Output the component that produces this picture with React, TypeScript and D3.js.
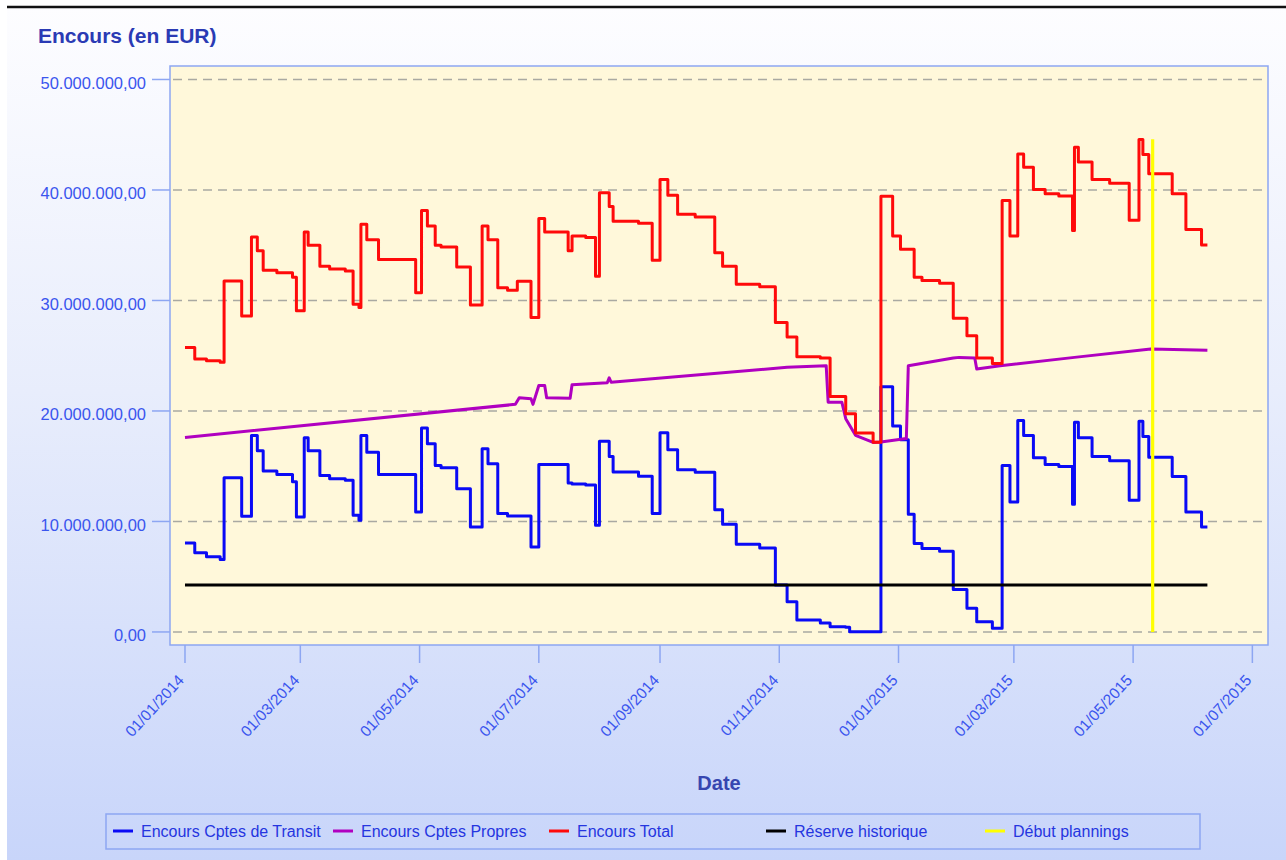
import React, { useRef, useEffect } from 'react';
import * as d3 from 'd3';

// Step series (values in millions of EUR), one entry per change date
const stepDates = [
  '2014-01-01', '2014-01-06', '2014-01-12', '2014-01-19', '2014-01-21', '2014-01-30',
  '2014-02-04', '2014-02-07', '2014-02-10', '2014-02-17', '2014-02-25', '2014-02-27',
  '2014-03-03', '2014-03-05', '2014-03-11', '2014-03-16', '2014-03-24', '2014-03-28',
  '2014-03-31', '2014-04-01', '2014-04-04', '2014-04-10', '2014-04-29', '2014-05-02',
  '2014-05-05', '2014-05-09', '2014-05-12', '2014-05-20', '2014-05-27', '2014-06-02',
  '2014-06-05', '2014-06-10', '2014-06-15', '2014-06-20', '2014-06-27', '2014-07-01',
  '2014-07-04', '2014-07-16', '2014-07-18', '2014-07-25', '2014-07-30', '2014-08-01',
  '2014-08-06', '2014-08-08', '2014-08-21', '2014-08-28', '2014-09-01', '2014-09-05',
  '2014-09-10', '2014-09-19', '2014-09-29', '2014-10-03', '2014-10-10', '2014-10-22',
  '2014-10-30', '2014-11-05', '2014-11-10', '2014-11-22', '2014-11-27', '2014-12-05',
  '2014-12-07', '2014-12-10', '2014-12-19', '2014-12-23', '2014-12-29', '2015-01-02',
  '2015-01-06', '2015-01-09', '2015-01-13', '2015-01-22', '2015-01-29', '2015-02-05',
  '2015-02-10', '2015-02-18', '2015-02-23', '2015-02-27', '2015-03-03', '2015-03-06',
  '2015-03-11', '2015-03-17', '2015-03-24', '2015-03-31', '2015-04-01', '2015-04-03',
  '2015-04-10', '2015-04-19', '2015-04-29', '2015-05-04', '2015-05-06', '2015-05-09',
  '2015-05-21', '2015-05-28', '2015-06-05', '2015-06-08',
];

const transit = [
  8.06, 7.16, 6.8, 6.55, 13.96, 10.47,
  17.78, 16.4, 14.56, 14.26, 13.6, 10.4,
  17.57, 16.4, 14.17, 13.87, 13.72, 10.56,
  10.1, 17.78, 16.27, 14.25, 10.86, 18.47,
  17.03, 15.07, 14.86, 12.97, 9.5, 16.58,
  15.22, 10.71, 10.5, 10.5, 7.7, 15.16,
  15.16, 13.47, 13.4, 13.3, 9.66, 17.27,
  15.88, 14.47, 14.1, 10.71, 18.02, 16.49,
  14.68, 14.45, 11.07, 9.75, 7.94, 7.6,
  4.24, 2.74, 1.08, 0.8, 0.48, 0.42,
  0.03, 0.03, 0.03, 22.2, 18.65, 17.4,
  10.65, 8.0, 7.55, 7.3, 3.85, 2.14,
  0.93, 0.33, 15.07, 11.76, 19.13, 17.78,
  15.77, 15.16, 14.98, 11.55, 18.98, 17.57,
  15.88, 15.5, 11.91, 19.07, 17.69, 15.82,
  14.08, 10.86, 9.5, 9.5,
];

const total = [
  25.75, 24.7, 24.55, 24.4, 31.77, 28.6,
  35.74, 34.5, 32.74, 32.52, 32.1, 29.06,
  36.2, 35.0, 33.1, 32.85, 32.67, 29.66,
  29.36, 36.9, 35.5, 33.7, 30.7, 38.15,
  36.73, 35.0, 34.84, 33.03, 29.6, 36.73,
  35.5, 31.16, 30.93, 31.75, 28.46, 37.42,
  36.2, 34.5, 35.83, 35.7, 32.2, 39.74,
  38.5, 37.18, 37.0, 33.63, 40.95, 39.53,
  37.8, 37.55, 34.33, 33.1, 31.47, 31.25,
  28.0, 26.7, 24.9, 24.8, 21.3, 19.74,
  19.74, 18.0, 17.18, 39.44, 35.83, 34.63,
  34.63, 32.1, 31.8, 31.55, 28.4, 26.8,
  24.8, 24.3, 39.05, 35.83, 43.26, 42.06,
  40.05, 39.65, 39.45, 36.34, 43.86, 42.54,
  40.95, 40.6, 37.25, 44.56, 43.2, 41.46,
  39.65, 36.43, 35.02, 35.02,
];

// Own accounts: drawn linear
const propresDates = [
  '2014-01-01', '2014-06-19', '2014-06-21', '2014-06-27', '2014-06-28', '2014-07-01',
  '2014-07-04', '2014-07-05', '2014-07-17', '2014-07-18', '2014-08-05', '2014-08-06',
  '2014-08-07', '2014-11-05', '2014-11-25', '2014-11-26', '2014-12-03', '2014-12-05',
  '2014-12-10', '2014-12-19', '2014-12-23', '2015-01-05', '2015-01-06', '2015-01-29',
  '2015-02-01', '2015-02-09', '2015-02-10', '2015-02-22', '2015-04-01', '2015-05-10',
  '2015-06-08',
];
const propres = [
  17.6, 20.6, 21.2, 21.1, 20.6, 22.3,
  22.3, 21.2, 21.15, 22.38, 22.55, 23.0,
  22.6, 23.95, 24.1, 20.8, 20.8, 19.3,
  17.8, 17.15, 17.2, 17.5, 24.1, 24.8,
  24.85, 24.8, 23.8, 24.1, 24.85, 25.6,
  25.5,
];

const reserveDates = ['2014-01-01', '2015-06-08'];
const reserve = [4.25, 4.25];

const planningDates = ['2015-05-11', '2015-05-11'];
const planning = [0, 44.6];

const yTicks = [0, 10, 20, 30, 40, 50];
const xTicks = [
  '2014-01-01', '2014-03-01', '2014-05-01', '2014-07-01', '2014-09-01',
  '2014-11-01', '2015-01-01', '2015-03-01', '2015-05-01', '2015-07-01',
];

const legendLabels = [
  'Encours Cptes de Transit', 'Encours Cptes Propres', 'Encours Total',
  'Réserve historique', 'Début plannings',
];
const legendX = [113, 333, 549, 766, 985];
const colors = ['#0a0af5', '#b000c0', '#ff0a0a', '#000000', '#ffff00'];

const FONT = '"Liberation Sans", Arial, sans-serif';
const FRAME = '#8da6f2';

const App = () => {
  const svgRef = useRef(null);

  useEffect(() => {
    const width = 1286;
    const height = 860;
    const svg = d3.select(svgRef.current);
    svg.selectAll('*').remove();
    svg.attr('width', width).attr('height', height);

    const parse = d3.utcParse('%Y-%m-%d');
    const plot = { left: 170, right: 1268, top: 66, bottom: 645 };

    const x = d3.scaleUtc()
      .domain([new Date(Date.UTC(2013, 11, 24, 8)), new Date(Date.UTC(2015, 6, 9))])
      .range([plot.left, plot.right]);
    const y = d3.scaleLinear()
      .domain([-1.18, 51.22])
      .range([plot.bottom, plot.top]);

    const locale = d3.formatLocale({ decimal: ',', thousands: '.', grouping: [3], currency: ['', '€'] });
    const fmtY = locale.format(',.2f');
    const fmtX = d3.utcFormat('%d/%m/%Y');

    // Background
    const defs = svg.append('defs');
    const grad = defs.append('linearGradient')
      .attr('id', 'bg').attr('x1', 0).attr('y1', 0).attr('x2', 0).attr('y2', 1);
    grad.append('stop').attr('offset', '0%').attr('stop-color', '#fdfdff');
    grad.append('stop').attr('offset', '45%').attr('stop-color', '#e8edfc');
    grad.append('stop').attr('offset', '100%').attr('stop-color', '#c8d5fa');

    svg.append('rect').attr('width', width).attr('height', height).attr('fill', '#ffffff');
    svg.append('rect').attr('x', 7).attr('y', 7).attr('width', width - 7).attr('height', height - 7)
      .attr('fill', 'url(#bg)');
    svg.append('line').attr('x1', 7).attr('x2', width).attr('y1', 7).attr('y2', 7)
      .attr('stroke', '#111').attr('stroke-width', 2.5);

    // Plot area
    svg.append('rect')
      .attr('x', plot.left).attr('y', plot.top)
      .attr('width', plot.right - plot.left).attr('height', plot.bottom - plot.top)
      .attr('fill', '#fff8da').attr('stroke', FRAME).attr('stroke-width', 1.5);

    // Grid
    svg.append('g').selectAll('line').data(yTicks).enter().append('line')
      .attr('x1', plot.left + 3).attr('x2', plot.right)
      .attr('y1', d => y(d)).attr('y2', d => y(d))
      .attr('stroke', '#a9a9a2').attr('stroke-width', 1.5).attr('stroke-dasharray', '9,6');

    // Y axis
    const yAxis = svg.append('g');
    yAxis.selectAll('line').data(yTicks).enter().append('line')
      .attr('x1', 152).attr('x2', plot.left)
      .attr('y1', d => y(d)).attr('y2', d => y(d))
      .attr('stroke', FRAME).attr('stroke-width', 1.5);
    yAxis.selectAll('text').data(yTicks).enter().append('text')
      .attr('x', 146).attr('y', d => y(d)).attr('dy', '0.55em')
      .attr('text-anchor', 'end')
      .attr('font-family', FONT).attr('font-size', 16.5).attr('fill', '#3a55ee')
      .text(d => fmtY(d * 1e6));

    // X axis
    const xAxis = svg.append('g');
    const xt = xTicks.map(parse);
    xAxis.selectAll('line').data(xt).enter().append('line')
      .attr('x1', d => x(d)).attr('x2', d => x(d))
      .attr('y1', plot.bottom).attr('y2', 663)
      .attr('stroke', FRAME).attr('stroke-width', 1.5);
    xAxis.selectAll('text').data(xt).enter().append('text')
      .attr('transform', d => `translate(${x(d)},681) rotate(-47)`)
      .attr('text-anchor', 'end')
      .attr('font-family', FONT).attr('font-size', 15.5).attr('fill', '#3a55ee')
      .text(d => fmtX(d));

    // Titles
    svg.append('text').attr('x', 38).attr('y', 43)
      .attr('font-family', FONT).attr('font-size', 21).attr('font-weight', 'bold')
      .attr('fill', '#2a3ab4').text('Encours (en EUR)');
    svg.append('text').attr('x', 719).attr('y', 790).attr('text-anchor', 'middle')
      .attr('font-family', FONT).attr('font-size', 20).attr('font-weight', 'bold')
      .attr('fill', '#3646b0').text('Date');

    // Series
    const toPoints = (dates, vals) => dates.map((d, i) => ({ date: parse(d), v: vals[i] }));
    const stepLine = d3.line().x(d => x(d.date)).y(d => y(d.v)).curve(d3.curveStepAfter);
    const linLine = d3.line().x(d => x(d.date)).y(d => y(d.v));

    const series = [
      { pts: toPoints(stepDates, transit), gen: stepLine, color: colors[0], w: 3 },
      { pts: toPoints(propresDates, propres), gen: linLine, color: colors[1], w: 3 },
      { pts: toPoints(stepDates, total), gen: stepLine, color: colors[2], w: 3 },
      { pts: toPoints(reserveDates, reserve), gen: linLine, color: colors[3], w: 3.2 },
      { pts: toPoints(planningDates, planning), gen: linLine, color: colors[4], w: 3.2 },
    ];
    series.forEach(s => {
      svg.append('path')
        .datum(s.pts)
        .attr('fill', 'none')
        .attr('stroke', s.color)
        .attr('stroke-width', s.w)
        .attr('stroke-linejoin', 'round')
        .attr('d', s.gen);
    });

    // Legend
    svg.append('rect').attr('x', 106).attr('y', 814).attr('width', 1094).attr('height', 35)
      .attr('fill', 'none').attr('stroke', FRAME).attr('stroke-width', 1.5);
    const leg = svg.append('g').selectAll('g').data(legendLabels).enter().append('g')
      .attr('transform', (d, i) => `translate(${legendX[i]},831)`);
    leg.append('line').attr('x1', 0).attr('x2', 20).attr('y1', 0).attr('y2', 0)
      .attr('stroke', (d, i) => colors[i]).attr('stroke-width', 3);
    leg.append('text').attr('x', 28).attr('y', 0).attr('dy', '0.35em')
      .attr('font-family', FONT).attr('font-size', 16).attr('fill', '#2535e0')
      .text(d => d);
  }, []);

  return <svg ref={svgRef} style={{ position: 'absolute', left: 0, top: 0 }}></svg>;
};

export default App;
